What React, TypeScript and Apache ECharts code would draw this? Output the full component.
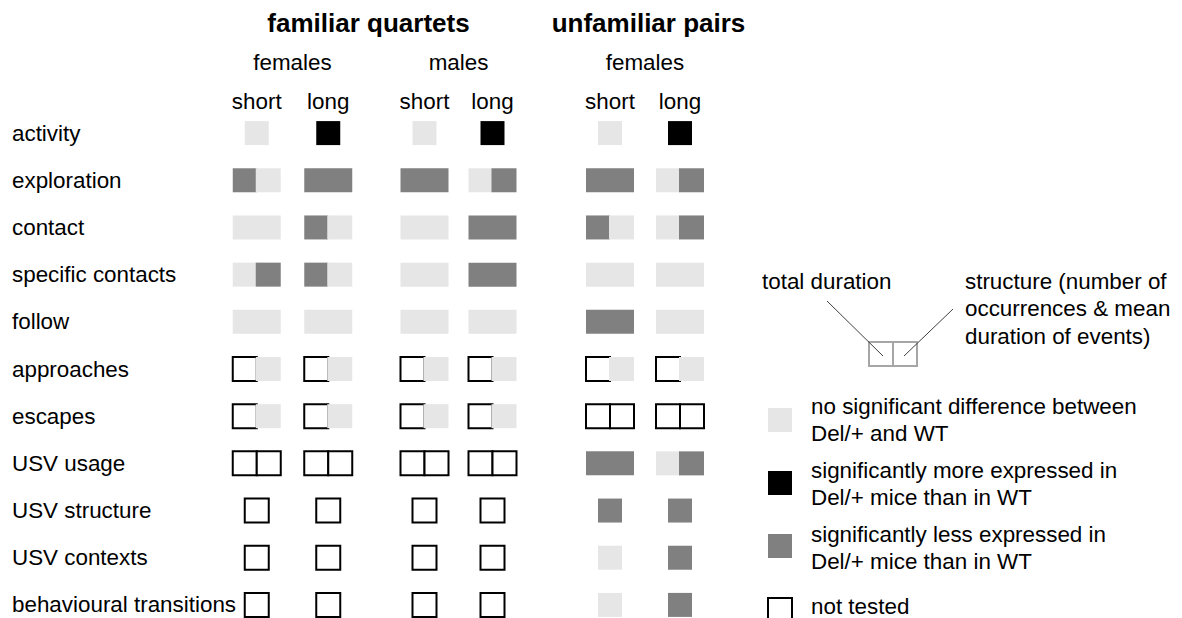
import React, { useEffect, useRef } from "react";
import * as echarts from "echarts";

// ---------- data ----------
const rowLabels = [
  "activity",
  "exploration",
  "contact",
  "specific contacts",
  "follow",
  "approaches",
  "escapes",
  "USV usage",
  "USV structure",
  "USV contexts",
  "behavioural transitions",
];
const durationLabels = ["short", "long"];
const sexLabels = ["females", "males", "females"];
const studyLabels = ["familiar quartets", "unfamiliar pairs"];

// codes: 0 = not tested, 1 = no significant difference, 2 = more expressed, 3 = less expressed
// each cell: [total duration, structure] or [single value]
const fqFemales: number[][][] = [
  [[1], [2]],
  [[3, 1], [3, 3]],
  [[1, 1], [3, 1]],
  [[1, 3], [3, 1]],
  [[1, 1], [1, 1]],
  [[0, 1], [0, 1]],
  [[0, 1], [0, 1]],
  [[0, 0], [0, 0]],
  [[0], [0]],
  [[0], [0]],
  [[0], [0]],
];
const fqMales: number[][][] = [
  [[1], [2]],
  [[3, 3], [1, 3]],
  [[1, 1], [3, 3]],
  [[1, 1], [3, 3]],
  [[1, 1], [1, 1]],
  [[0, 1], [0, 1]],
  [[0, 1], [0, 1]],
  [[0, 0], [0, 0]],
  [[0], [0]],
  [[0], [0]],
  [[0], [0]],
];
const upFemales: number[][][] = [
  [[1], [2]],
  [[3, 3], [1, 3]],
  [[3, 1], [1, 3]],
  [[1, 1], [1, 1]],
  [[3, 3], [1, 1]],
  [[0, 1], [0, 1]],
  [[0, 0], [0, 0]],
  [[3, 3], [1, 3]],
  [[3], [3]],
  [[1], [3]],
  [[1], [3]],
];
const groupData = [fqFemales, fqMales, upFemales];

const legendLines = [
  ["no significant difference between", "Del/+ and WT"],
  ["significantly more expressed in", "Del/+ mice than in WT"],
  ["significantly less expressed in", "Del/+ mice than in WT"],
  ["not tested"],
];
const diagramLabels = ["total duration", "structure (number of", "occurrences & mean", "duration of events)"];

// ---------- styles ----------
const FONT = "'Liberation Sans', Arial, sans-serif";
const FS = 22.4;
const codeColors = ["#ffffff", "#e6e6e6", "#000000", "#808080"];
const CELL = 24;

const gridBoxes = [
  { left: 221, width: 143 },
  { left: 390.5, width: 136 },
  { left: 575, width: 140 },
];
const GRID_TOP = 109.5;
const GRID_H = 519;

function renderCell(params: any, api: any) {
  const c = api.value(0);
  const r = api.value(1);
  const n = api.value(2);
  const codes = n === 1 ? [api.value(3)] : [api.value(3), api.value(4)];
  const pt = api.coord([c, r]);
  const cx = pt[0];
  const cy = pt[1];
  const y0 = cy - CELL / 2;
  const x0 = n === 1 ? cx - CELL / 2 : cx - CELL;
  const children: any[] = [];
  // not tested halves first
  codes.forEach((code: number, i: number) => {
    if (code === 0) {
      children.push({
        type: "rect",
        shape: { x: x0 + i * CELL, y: y0, width: CELL, height: CELL },
        style: { fill: "#ffffff", stroke: "#000000", lineWidth: 2 },
      });
    }
  });
  if (codes.length === 2 && codes[0] !== 0 && codes[0] === codes[1]) {
    children.push({
      type: "rect",
      shape: { x: x0, y: y0, width: 2 * CELL, height: CELL },
      style: { fill: codeColors[codes[0]] },
    });
  } else {
    codes.forEach((code: number, i: number) => {
      if (code !== 0) {
        let x = x0 + i * CELL;
        let w = CELL;
        if (codes.length === 2) {
          if (i === 1) {
            x -= 1;
            w += 1;
          } else if (codes[1] === 0) {
            w += 1;
          }
        }
        children.push({
          type: "rect",
          shape: { x, y: y0, width: w, height: CELL },
          style: { fill: codeColors[code] },
        });
      }
    });
  }
  return { type: "group", children };
}

function buildOption() {
  const grids = gridBoxes.map((g) => ({
    left: g.left,
    width: g.width,
    top: GRID_TOP,
    height: GRID_H,
    outerBoundsMode: "none",
    containLabel: false,
  }));
  const xAxes = gridBoxes.map((_, gi) => ({
    type: "category",
    gridIndex: gi,
    data: durationLabels,
    position: "top",
    axisLine: { show: false },
    axisTick: { show: false },
    splitLine: { show: false },
    axisLabel: {
      show: true,
      fontSize: FS,
      color: "#000",
      fontFamily: FONT,
      verticalAlign: "middle",
      margin: 8.5,
    },
    name: sexLabels[gi],
    nameLocation: "middle",
    nameGap: 47.5,
    nameTextStyle: { fontSize: FS, color: "#000", fontFamily: FONT, verticalAlign: "middle" },
  }));
  const yAxes = gridBoxes.map((g, gi) => ({
    type: "category",
    gridIndex: gi,
    data: rowLabels,
    inverse: true,
    axisLine: { show: false },
    axisTick: { show: false },
    splitLine: { show: false },
    axisLabel: {
      show: gi === 0,
      interval: 0,
      align: "left",
      margin: g.left - 12,
      fontSize: FS,
      color: "#000",
      fontFamily: FONT,
    },
  }));
  const series = groupData.map((gd, gi) => {
    const data: any[] = [];
    gd.forEach((row, r) => {
      row.forEach((cell, c) => {
        data.push([c, r, cell.length, cell[0], cell.length > 1 ? cell[1] : 0]);
      });
    });
    return {
      type: "custom",
      xAxisIndex: gi,
      yAxisIndex: gi,
      renderItem: renderCell,
      encode: { x: 0, y: 1 },
      data,
      silent: true,
      clip: false,
    };
  });

  const txt = (text: string, x: number, y: number, extra: any = {}) => ({
    type: "text",
    x,
    y,
    style: {
      text,
      fontSize: FS,
      fontFamily: FONT,
      fill: "#000",
      align: "left",
      verticalAlign: "middle",
      ...extra,
    },
  });

  const legendKeyY = [408, 471, 534, 598];
  const legendTextY = [[406, 433], [470, 497], [534, 561], [606]];

  const graphic: any[] = [
    txt(studyLabels[0], 368.5, 23, { fontSize: 26, fontWeight: "bold", align: "center" }),
    txt(studyLabels[1], 648.5, 23, { fontSize: 26, fontWeight: "bold", align: "center" }),
    txt(diagramLabels[0], 762, 281),
    txt(diagramLabels[1], 965, 281),
    txt(diagramLabels[2], 965, 308.5),
    txt(diagramLabels[3], 965, 336),
    {
      type: "rect",
      shape: { x: 869, y: 342, width: 24, height: 24 },
      style: { fill: "none", stroke: "#a6a6a6", lineWidth: 2 },
    },
    {
      type: "rect",
      shape: { x: 893, y: 342, width: 24, height: 24 },
      style: { fill: "none", stroke: "#a6a6a6", lineWidth: 2 },
    },
    {
      type: "line",
      shape: { x1: 827, y1: 301, x2: 883, y2: 356 },
      style: { stroke: "#404040", lineWidth: 1 },
    },
    {
      type: "line",
      shape: { x1: 953, y1: 309, x2: 904, y2: 356 },
      style: { stroke: "#404040", lineWidth: 1 },
    },
  ];
  legendKeyY.forEach((y, i) => {
    const code = [1, 2, 3, 0][i];
    graphic.push({
      type: "rect",
      shape: { x: 768, y, width: 24, height: 24 },
      style:
        code === 0
          ? { fill: "#ffffff", stroke: "#000000", lineWidth: 2 }
          : { fill: codeColors[code] },
    });
    legendLines[i].forEach((line, j) => {
      graphic.push(txt(line, 811, legendTextY[i][j]));
    });
  });

  return {
    animation: false,
    backgroundColor: "#ffffff",
    textStyle: { fontFamily: FONT },
    grid: grids,
    xAxis: xAxes,
    yAxis: yAxes,
    series,
    graphic,
  };
}

export default function App() {
  const ref = useRef<HTMLDivElement>(null);
  useEffect(() => {
    if (!ref.current) return;
    const chart = echarts.init(ref.current, null, { renderer: "svg" });
    chart.setOption(buildOption() as any);
    return () => chart.dispose();
  }, []);
  return (
    <div
      ref={ref}
      style={{ position: "absolute", left: 0, top: 0, width: 1182, height: 618 }}
    />
  );
}
